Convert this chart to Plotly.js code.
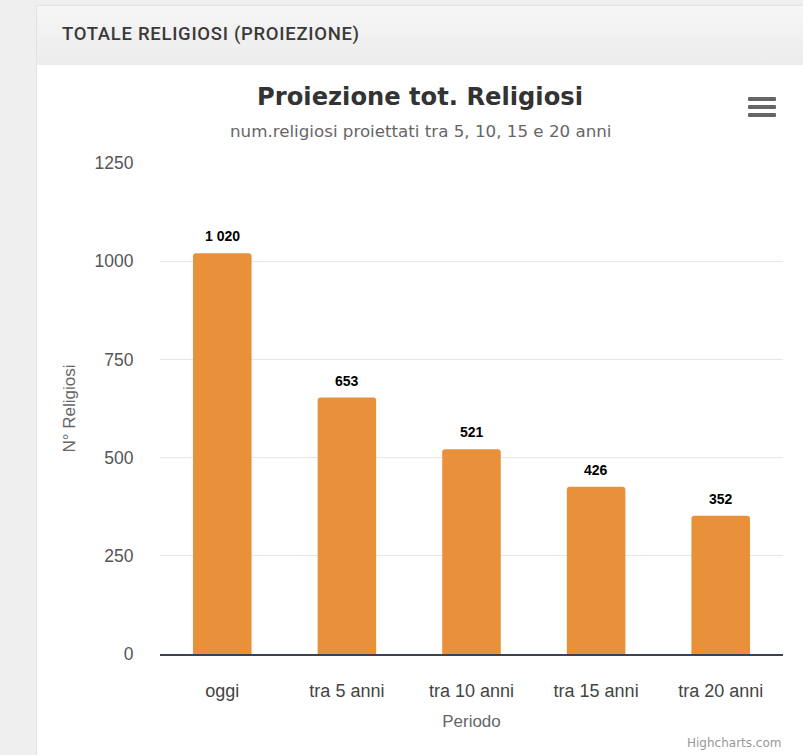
<!DOCTYPE html>
<html>
<head>
<meta charset="utf-8">
<script src="https://cdn.plot.ly/plotly-3.0.1.min.js"></script>
<style>
  html, body { margin: 0; padding: 0; width: 803px; height: 755px; overflow: hidden; background: #efefef; }
  #panel { position: absolute; left: 36px; top: 5px; width: 780px; height: 770px; background: #fff; border: 1px solid #e2e2e2; }
  #header { position: absolute; left: 0; top: 0; width: 100%; height: 59px;
            background: linear-gradient(#f6f6f6, #ececec); border-bottom: 1px solid #dedede; }
  #header span { position: absolute; left: 25px; top: 17px; font-family: "Roboto", sans-serif;
                 font-size: 18.5px; font-weight: 500; color: #3a3a3a; letter-spacing: 0.7px; }
  #chart { position: absolute; left: 37px; top: 65px; width: 766px; height: 690px; }
  .bar { position: absolute; left: 748px; width: 28px; height: 4px; background: #666; border-radius: 1px; }
</style>
</head>
<body>
<div id="panel"><div id="header"><span>TOTALE RELIGIOSI (PROIEZIONE)</span></div></div>
<div id="chart"></div>
<div class="bar" style="top:97px"></div>
<div class="bar" style="top:105px"></div>
<div class="bar" style="top:113px"></div>
<script>
const categories = ["oggi", "tra 5 anni", "tra 10 anni", "tra 15 anni", "tra 20 anni"];
const religiosi = [1020, 653, 521, 426, 352];
const yTicks = [0, 250, 500, 750, 1000, 1250];

function fmt(v) {
  return String(v).replace(/\B(?=(\d{3})+(?!\d))/g, "\u00a0");
}

const FONT = "Liberation Sans, Arial, sans-serif";
const WIDE = "DejaVu Sans, Verdana, sans-serif";

const trace = {
  type: "bar",
  x: categories,
  y: religiosi,
  marker: { color: "#E8913A", cornerradius: 3, line: { width: 0 } },
  hoverinfo: "x+y"
};

const annotations = categories.map((c, i) => ({
  x: c, y: religiosi[i], xref: "x", yref: "y",
  text: "<b>" + fmt(religiosi[i]) + "</b>",
  showarrow: false, yanchor: "middle", yshift: 17,
  font: { family: FONT, size: 14, color: "#000" }
}));

annotations.push({
  xref: "paper", yref: "paper", x: (383 - 123) / 623, xanchor: "center", y: 1.065, yanchor: "middle",
  text: "num.religiosi proiettati tra 5, 10, 15 e 20 anni",
  showarrow: false, font: { family: WIDE, size: 16.7, color: "#666" }
});
annotations.push({
  xref: "paper", yref: "paper", x: 1, y: -0.181, xanchor: "right", yanchor: "middle",
  text: "Highcharts.com",
  showarrow: false, font: { family: WIDE, size: 12, color: "#999" }
});

const layout = {
  width: 766, height: 690,
  margin: { l: 123, r: 20, t: 98, b: 101 },
  paper_bgcolor: "#fff", plot_bgcolor: "#fff",
  bargap: 0.53,
  showlegend: false,
  title: {
    text: "<b>Proiezione tot. Religiosi</b>",
    x: 0.5, xref: "container", xanchor: "center",
    y: 1 - 32 / 690, yref: "container", yanchor: "middle",
    font: { family: WIDE, size: 24.2, color: "#333" }
  },
  xaxis: {
    type: "category",
    showline: true, linecolor: "#3b4350", linewidth: 1.5,
    ticks: "outside", ticklen: 20, tickcolor: "rgba(0,0,0,0)",
    tickfont: { family: FONT, size: 18, color: "#444" },
    title: { text: "Periodo", standoff: 15, font: { family: FONT, size: 17, color: "#666" } },
    showgrid: false, zeroline: false, fixedrange: true
  },
  yaxis: {
    range: [0, 1250], tickvals: yTicks, ticktext: yTicks.map(String),
    showgrid: true, gridcolor: "#e6e6e6", gridwidth: 1,
    zeroline: false, showline: false,
    ticks: "outside", ticklen: 22, tickcolor: "rgba(0,0,0,0)",
    tickfont: { family: FONT, size: 17.5, color: "#555" },
    title: { text: "N° Religiosi", standoff: 14, font: { family: FONT, size: 17, color: "#666" } },
    fixedrange: true
  },
  annotations: annotations
};

Plotly.newPlot("chart", [trace], layout, { displayModeBar: false, staticPlot: false });
</script>
</body>
</html>
